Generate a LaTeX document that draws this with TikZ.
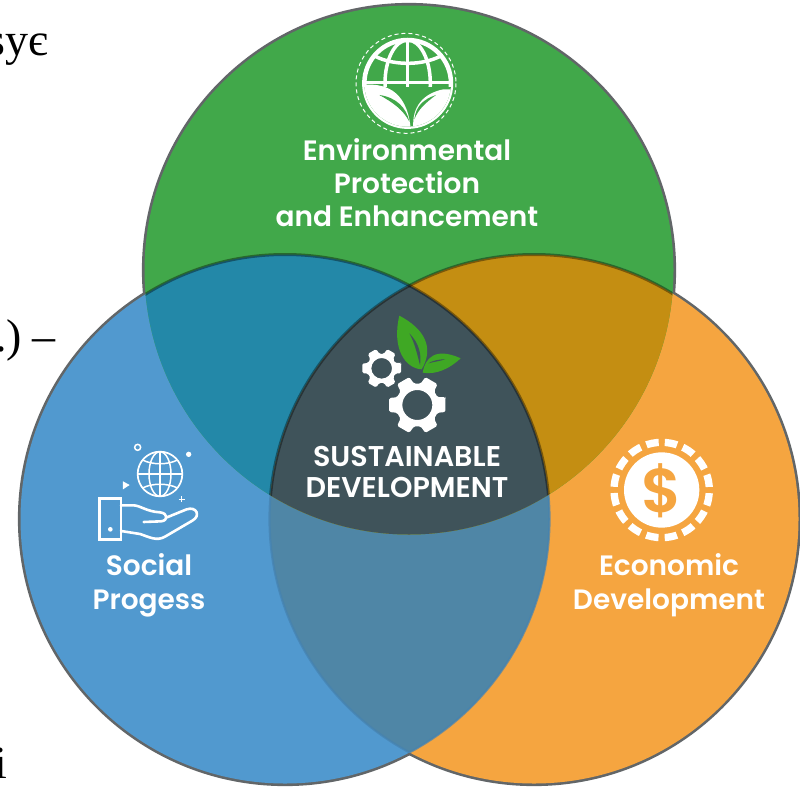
\documentclass[tikz,border=0pt]{standalone}
\usepackage{fontspec}
\setmainfont{Liberation Serif}
\newfontfamily\labelfont{Poppins}[BoldFont={Poppins SemiBold}]
\usetikzlibrary{calc}
\definecolor{cgreen}{HTML}{41A84A}
\definecolor{cblue}{HTML}{5199CF}
\definecolor{corange}{HTML}{F5A540}
\definecolor{cgb}{HTML}{2388A8}
\definecolor{cgo}{HTML}{C48E12}
\definecolor{cbo}{HTML}{4F86A6}
\definecolor{ccore}{HTML}{3F535A}
\definecolor{cleaf}{HTML}{3FA824}
\definecolor{cedge}{HTML}{626668}
\tikzset{
  lbl/.style={text=white,font=\labelfont\bfseries\fontsize{28}{33}\selectfont,align=center,inner sep=0pt,anchor=base},
  lblcaps/.style={lbl,font=\labelfont\bfseries\fontsize{28.6}{33}\selectfont},
  frag/.style={text=black,font=\fontsize{46}{46}\selectfont,inner sep=0pt,anchor=base west},
  outer/.style={draw=cedge,line width=3.2},
  innerdark/.style={draw=black,draw opacity=.38,line width=3},
  innerfaint/.style={draw=cblue!85!black,draw opacity=.7,line width=2.2},
  icon/.style={draw=white,line cap=round,line join=round}
}
\newcommand{\gearicon}[5]{% cx cy outer base hole
  \fill[white,even odd rule,rounded corners=1.5] (#1,#2) ++(-16:#3)
    \foreach \a in {0,60,...,300}{ -- ($(#1,#2)+(\a-14:#3)$) -- ($(#1,#2)+(\a+14:#3)$) -- ($(#1,#2)+(\a+21:#4)$) -- ($(#1,#2)+(\a+39:#4)$)} -- cycle
    (#1,#2) circle[radius=#5];
}
\begin{document}
\begin{tikzpicture}[x=1pt,y=-1pt]
\useasboundingbox (0,0) rectangle (800,787);
\clip (0,0) rectangle (800,787);
\fill[white] (0,0) rectangle (800,787);
\def\cg{(409,270) circle[radius=264.5]}
\def\cb{(285,519) circle[radius=264.5]}
\def\co{(534,519) circle[radius=264.5]}
% fragments of text behind the figure
\node[frag] (t1) at (-13,55) {sy\char"0454};
\node[frag] (t2) at (-5,351) {.)\hspace{10.5pt}–};
\node[frag] (t3) at (-6,778) {i};
% outer edges, painted first so the fills hide every part inside the union
\draw[outer] (409,270) circle[radius=265.5];
\draw[outer] (285,519) circle[radius=265.5];
\draw[outer] (534,519) circle[radius=265.5];
% lower regions
\fill[corange] \co;
\fill[cblue] \cb;
\begin{scope}\clip \cb; \fill[cbo] \co; \end{scope}
\begin{scope}\clip \cb; \draw[innerfaint] \co; \end{scope}
\begin{scope}\clip \co; \draw[innerfaint] \cb; \end{scope}
% green and its overlaps
\fill[cgreen] \cg;
\begin{scope}\clip \cg; \fill[cgb] \cb; \fill[cgo] \co; \end{scope}
\begin{scope}\clip \cg; \clip \cb; \fill[ccore] \co; \end{scope}
\begin{scope}\clip \cg; \draw[innerdark] \cb; \draw[innerdark] \co; \end{scope}
% labels
\node[lbl] (env) at (407,160) {Environmental};
\node[lbl] (pro) at (407,193) {Protection};
\node[lbl] (enh) at (407,226) {and Enhancement};
\node[lblcaps] (sus) at (407,466) {SUSTAINABLE};
\node[lblcaps] (dev) at (407,497) {DEVELOPMENT};
\node[lbl] (soc) at (149,575) {Social};
\node[lbl] (prg) at (149,609) {Progess};
\node[lbl] (eco) at (669,575) {Economic};
\node[lbl] (edv) at (669,609) {Development};
% earth icon
\begin{scope}[shift={(340,20)},x=.3333pt,y=-.3333pt]
  \draw[white,line width=1,dash pattern=on 4 off 3] (198,190) circle[radius=150];
  \draw[white,line width=4.5] (203,190) circle[radius=130];
  \begin{scope}
    \clip (203,190) circle[radius=130];
    \draw[white,line width=3.5] (203,60) -- (203,240);
    \draw[white,line width=3.5] (203,190) ellipse[x radius=68,y radius=130];
    \draw[white,line width=3.5] (70,187) -- (336,187);
    \draw[white,line width=3.5] (90,100) .. controls (150,140) and (256,140) .. (316,100);
    \fill[cgreen] (60,200) -- (345,200) -- (345,330) -- (60,330) -- cycle;
    \fill[white] (60,195) .. controls (130,188) and (200,205) .. (212,325) -- (60,330) -- cycle;
    \fill[white] (220,325) .. controls (215,260) and (250,220) .. (310,208) -- (345,208) -- (345,330) -- cycle;
    \fill[cgreen] (118,225) .. controls (170,232) and (200,265) .. (208,305) .. controls (190,270) and (160,248) .. (118,225) -- cycle;
    \fill[cgreen] (288,225) .. controls (250,238) and (228,258) .. (223,298) .. controls (235,268) and (255,250) .. (288,225) -- cycle;
  \end{scope}
\end{scope}
% core icon
\begin{scope}[shift={(340,300)},x=.3333pt,y=-.3333pt]
  \fill[cleaf] (178,47) .. controls (250,85) and (285,140) .. (245,208) .. controls (195,205) and (155,145) .. (178,47) -- cycle;
  \fill[ccore] (208,100) .. controls (238,130) and (245,165) .. (240,195) .. controls (232,165) and (225,130) .. (208,100) -- cycle;
  \fill[cleaf] (248,218) .. controls (255,175) and (285,140) .. (362,175) .. controls (330,205) and (290,225) .. (248,218) -- cycle;
  \fill[ccore] (265,190) .. controls (280,180) and (300,178) .. (316,178) .. controls (300,183) and (285,185) .. (265,190) -- cycle;
  \gearicon{125}{205}{60}{44}{31}
  \gearicon{232}{315}{87}{65}{45}
\end{scope}
% hand icon
\begin{scope}[shift={(85,430)},x=.3333pt,y=-.3333pt]
  \draw[white,line width=1.7] (225,132) circle[radius=67];
  \draw[white,line width=1.5] (225,132) ellipse[x radius=33,y radius=67];
  \draw[white,line width=1.5] (225,65) -- (225,199) (158,132) -- (292,132);
  \draw[white,line width=1.5] (173,90) .. controls (200,105) and (250,105) .. (277,90);
  \draw[white,line width=1.5] (173,174) .. controls (200,159) and (250,159) .. (277,174);
  \draw[white,line width=1.5] (158,52) circle[radius=9];
  \fill[white] (311,73) circle[radius=8];
  \fill[white] (114,154) -- (134,165) -- (114,178) -- cycle;
  \draw[white,line width=1.2] (290,199) -- (290,217) (281,208) -- (299,208);
  \draw[icon,line width=2.6,line cap=butt,line join=miter] (43,205) rectangle (108,328);
  \fill[white] (76,298) circle[radius=7];
  \draw[icon,line width=2.6] (108,226) -- (145,226) .. controls (165,226) and (185,245) .. (225,247) .. controls (250,250) and (250,272) .. (228,274) -- (176,276);
  \draw[icon,line width=2.6] (246,262) -- (305,238) .. controls (335,228) and (348,258) .. (322,272) -- (240,320) .. controls (215,335) and (190,320) .. (165,312) -- (108,303);
\end{scope}
% coin icon
\begin{scope}[shift={(600,430)},x=.3333pt,y=-.3333pt]
  \fill[white] (185,180) circle[radius=113];
  \draw[white,line width=7.3,dash pattern=on 12.5pt off 6.22pt,dash phase=15.6pt] (185,37) arc[start angle=-90,end angle=270,radius=143];
  \node[text=corange,font=\labelfont\bfseries\fontsize{62}{62}\selectfont,inner sep=0pt] (dol) at (185,181) {\$};
\end{scope}
\end{tikzpicture}
\end{document}
